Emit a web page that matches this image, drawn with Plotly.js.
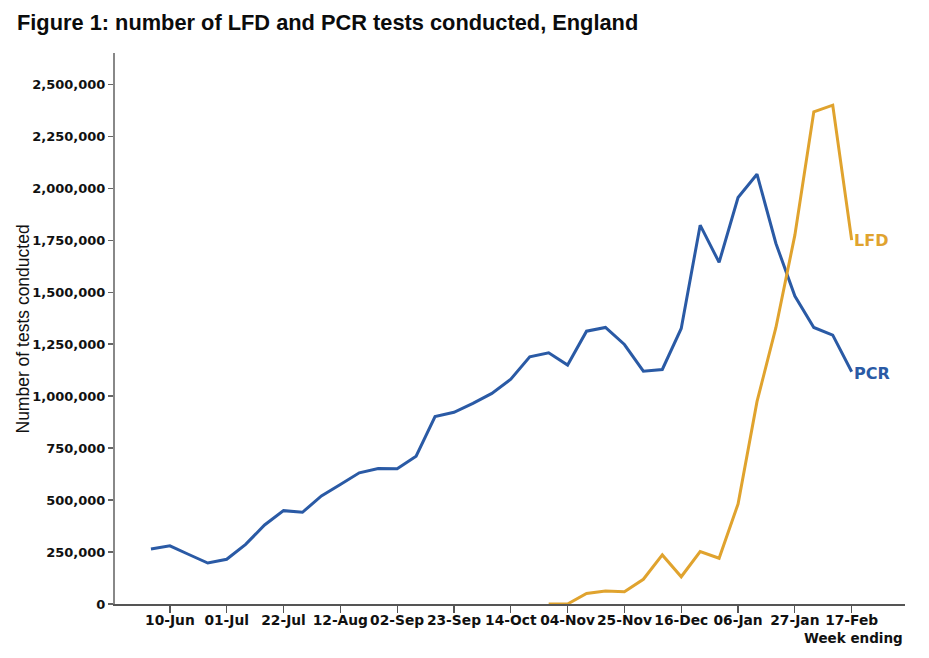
<!DOCTYPE html>
<html>
<head>
<meta charset="utf-8">
<script src="https://cdn.plot.ly/plotly-3.0.1.min.js"></script>
<style>
html,body{margin:0;padding:0;background:#fff;}
#chart{width:929px;height:658px;}
</style>
</head>
<body>
<div id="chart"></div>
<script>
// Week ending dates (weekly, 03-Jun-2020 to 17-Feb-2021)
const weeks = [
  "2020-06-03","2020-06-10","2020-06-17","2020-06-24","2020-07-01","2020-07-08","2020-07-15","2020-07-22",
  "2020-07-29","2020-08-05","2020-08-12","2020-08-19","2020-08-26","2020-09-02","2020-09-09","2020-09-16",
  "2020-09-23","2020-09-30","2020-10-07","2020-10-14","2020-10-21","2020-10-28","2020-11-04","2020-11-11",
  "2020-11-18","2020-11-25","2020-12-02","2020-12-09","2020-12-16","2020-12-23","2020-12-30","2021-01-06",
  "2021-01-13","2021-01-20","2021-01-27","2021-02-03","2021-02-10","2021-02-17"
];
const pcr = [
  265000, 280000, 238000, 197000, 215000, 287000, 380000, 449000,
  441000, 520000, 575000, 631000, 652000, 651000, 711000, 901000,
  922000, 965000, 1013000, 1081000, 1189000, 1208000, 1149000, 1312000,
  1330000, 1248000, 1120000, 1128000, 1325000, 1822000, 1643000, 1955000,
  2067000, 1734000, 1481000, 1330000, 1293000, 1117000
];
const lfdWeeks = weeks.slice(21);
const lfd = [
  0, 0, 51000, 62000, 59000, 119000, 236000, 131000,
  252000, 220000, 481000, 973000, 1330000, 1774000, 2367000, 2399000, 1750000
];
const tickVals = ["2020-06-10","2020-07-01","2020-07-22","2020-08-12","2020-09-02","2020-09-23","2020-10-14",
                  "2020-11-04","2020-11-25","2020-12-16","2021-01-06","2021-01-27","2021-02-17"];
const tickText = ["10-Jun","01-Jul","22-Jul","12-Aug","02-Sep","23-Sep","14-Oct",
                  "04-Nov","25-Nov","16-Dec","06-Jan","27-Jan","17-Feb"];
const yTicks = [0,250000,500000,750000,1000000,1250000,1500000,1750000,2000000,2250000,2500000];
const seriesNames = ["PCR","LFD"];

const BLUE = "#2a5aa5";
const GOLD = "#e0a32e";
const tickFont = {family: "DejaVu Sans", size: 13, color: "#111", weight: "bold"};

const traces = [
  {x: weeks, y: pcr, type: "scatter", mode: "lines", name: seriesNames[0],
   line: {color: BLUE, width: 3}, hoverinfo: "x+y"},
  {x: lfdWeeks, y: lfd, type: "scatter", mode: "lines", name: seriesNames[1],
   line: {color: GOLD, width: 3}, hoverinfo: "x+y"}
];

const layout = {
  width: 929, height: 658,
  margin: {l: 115, r: 24, t: 53, b: 54},
  paper_bgcolor: "#fff", plot_bgcolor: "#fff",
  showlegend: false,
  font: {family: "Liberation Sans, Arial, sans-serif", color: "#111"},
  title: {
    text: "<b>Figure 1: number of LFD and PCR tests conducted, England</b>",
    x: 17/929, xref: "container", xanchor: "left", y: 1 - 22/658, yref: "container", yanchor: "middle",
    font: {family: "Liberation Sans, Arial", size: 21.8, color: "#0b0c0c"}
  },
  xaxis: {
    type: "date",
    range: ["2020-05-20 17:00", "2021-03-08 17:00"],
    tickvals: tickVals, ticktext: tickText,
    ticks: "",
    ticklabelstandoff: 3,
    minor: {ticks: "outside", ticklen: 7, tickwidth: 1.2, tickcolor: "#555",
            tick0: tickVals[0], dtick: 21 * 86400000, showgrid: false},
    showline: true, linecolor: "#555", linewidth: 1.5,
    showgrid: false, zeroline: false,
    tickfont: {family: "DejaVu Sans", size: 13.8, color: "#111", weight: "bold"},
    tickangle: 0,
    title: {text: ""}
  },
  yaxis: {
    range: [0, 2650000],
    tickvals: yTicks,
    tickformat: ",d",
    ticks: "outside", ticklen: 5, tickwidth: 1.2, tickcolor: "#666",
    showline: true, linecolor: "#888", linewidth: 2,
    showgrid: false, zeroline: false,
    tickfont: tickFont,
    title: {text: ""}
  },
  annotations: [
    {x: (22 - 115) / 790, y: (604 - 329.5) / 551, xref: "paper", yref: "paper",
     text: "Number of tests conducted", textangle: -90, showarrow: false,
     xanchor: "center", yanchor: "middle",
     font: {family: "Liberation Sans, Arial", size: 17.5, color: "#111"}},
    {x: lfdWeeks[lfdWeeks.length-1], y: lfd[lfd.length-1], xref: "x", yref: "y",
     text: "<b>LFD</b>", showarrow: false, xanchor: "left", yanchor: "middle", xshift: 0,
     font: {family: "DejaVu Sans", size: 16, color: GOLD}},
    {x: weeks[weeks.length-1], y: pcr[pcr.length-1], xref: "x", yref: "y",
     text: "<b>PCR</b>", showarrow: false, xanchor: "left", yanchor: "middle", xshift: 0, yshift: -2,
     font: {family: "DejaVu Sans", size: 16, color: BLUE}},
    {x: 1, y: 0, xref: "paper", yref: "paper", xanchor: "right", yanchor: "top", yshift: -24,
     text: "<b>Week ending</b>", showarrow: false,
     font: {family: "DejaVu Sans", size: 13.5, color: "#111"}}
  ]
};

Plotly.newPlot("chart", traces, layout, {displayModeBar: false, staticPlot: true});
</script>
</body>
</html>
